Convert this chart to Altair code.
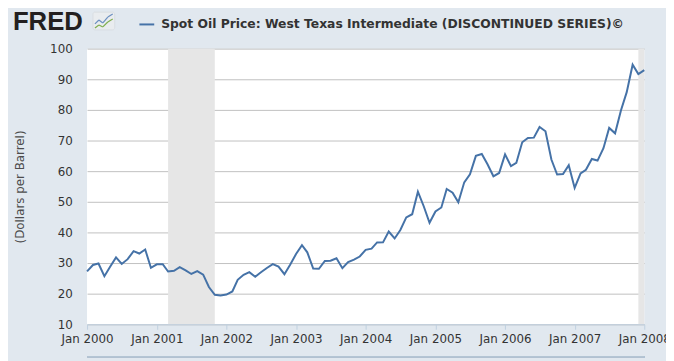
import altair as alt
import pandas as pd

SERIES = "Spot Oil Price: West Texas Intermediate (DISCONTINUED SERIES)\u00a9"

start_month = "2000-01-01"
prices = [
    27.26, 29.37, 29.84, 25.72, 28.79, 31.82, 29.70, 31.26, 33.88, 33.11, 34.42, 28.44,
    29.59, 29.61, 27.25, 27.49, 28.63, 27.60, 26.43, 27.37, 26.20, 22.17, 19.64, 19.39,
    19.72, 20.72, 24.53, 26.18, 27.04, 25.52, 26.97, 28.39, 29.66, 28.84, 26.35, 29.46,
    32.95, 35.83, 33.51, 28.17, 28.11, 30.66, 30.76, 31.57, 28.31, 30.34, 31.11, 32.13,
    34.31, 34.69, 36.74, 36.75, 40.28, 38.03, 40.78, 44.90, 45.94, 53.28, 48.47, 43.15,
    46.84, 48.15, 54.19, 52.98, 49.83, 56.35, 59.00, 64.99, 65.59, 62.26, 58.32, 59.41,
    65.49, 61.63, 62.69, 69.44, 70.84, 70.95, 74.41, 73.04, 63.80, 58.89, 59.08, 61.96,
    54.51, 59.28, 60.44, 63.98, 63.46, 67.49, 74.12, 72.36, 79.92, 85.80, 94.77, 91.69,
    92.97,
]
dates = pd.date_range(start_month, periods=len(prices), freq="MS").strftime("%Y-%m-%d").tolist()

rec_start = ["2001-03-01", "2007-12-01"]
rec_end = ["2001-11-01", "2008-01-01"]

y_ticks = [10, 20, 30, 40, 50, 60, 70, 80, 90, 100]
x_years = [2000, 2001, 2002, 2003, 2004, 2005, 2006, 2007, 2008]

df = pd.DataFrame({"date": dates, "price": prices, "series": SERIES})
rec = pd.DataFrame({"start": rec_start, "end": rec_end})
logo = pd.DataFrame({"text": ["FRED"]})

BG = "#e1e8ef"
LINE = "#4572a7"
AXIS_BLUE = "#c0d0e0"
TXT = "#333333"

x_scale = alt.Scale(
    type="utc",
    domain=[alt.DateTime(year=2000, month=1, date=1, utc=True),
            alt.DateTime(year=2008, month=1, date=1, utc=True)],
)
y_scale = alt.Scale(domain=[10, 100], nice=False, zero=False)

x_axis = alt.Axis(
    values=[alt.DateTime(year=y, month=1, date=1, utc=True) for y in x_years],
    labelExpr="utcFormat(datum.value, '%b %Y')", title=None, grid=False,
    domainColor=AXIS_BLUE, tickColor=AXIS_BLUE, tickSize=5,
    labelColor=TXT, labelFont="DejaVu Sans", labelFontSize=12,
    labelPadding=4, labelOverlap=False, labelFlush=False, zindex=1,
)
y_axis = alt.Axis(
    values=y_ticks, title="(Dollars per Barrel)", grid=True, gridColor="#c0c0c0",
    domain=False, ticks=False, labelPadding=15, labelColor=TXT,
    labelFont="DejaVu Sans", labelFontSize=12,
    titleFont="DejaVu Sans", titleFontSize=12, titleFontWeight="normal",
    titleColor="#4d4d4d", titlePadding=23,
)

bands = alt.Chart(rec).mark_rect(color="#e6e6e6").encode(
    x=alt.X("start:T", scale=x_scale, axis=x_axis),
    x2="end:T",
    y=alt.datum(10, scale=y_scale, axis=y_axis),
    y2=alt.datum(100),
)

line = alt.Chart(df).mark_line(strokeWidth=2).encode(
    x=alt.X("date:T", scale=x_scale, axis=x_axis),
    y=alt.Y("price:Q", scale=y_scale, axis=y_axis),
    color=alt.Color(
        "series:N",
        scale=alt.Scale(domain=[SERIES], range=[LINE]),
        legend=alt.Legend(
            title=None, orient="none", legendX=52, legendY=-33, padding=0,
            symbolType="stroke", symbolSize=225, symbolStrokeWidth=2,
            symbolStrokeColor=LINE, labelFont="DejaVu Sans", labelFontSize=12.5,
            labelFontWeight="bold", labelColor=TXT, labelOffset=6, labelLimit=0,
        ),
    ),
)

nav = alt.Chart(df).mark_rule(color="#b4c3d2", strokeWidth=1).encode(
    x=alt.value(0), x2=alt.value(564), y=alt.value(312)
)

logo_text = alt.Chart(logo).mark_text(
    font="Liberation Sans", fontSize=26, fontWeight="bold", color="#231f20",
    align="left", baseline="alphabetic",
).encode(text="text:N", x=alt.value(-75), y=alt.value(-19))

icon = alt.Chart(logo).mark_rect(
    fill="#e9ecef", stroke="#d8dde2", strokeWidth=1, cornerRadius=2
).encode(x=alt.value(6), x2=alt.value(28), y=alt.value(-37), y2=alt.value(-19))

# small zigzag strokes of the FRED logo icon
icon_blue = [(8, -25, 12, -29), (12, -29, 16, -26), (16, -26, 21, -32), (21, -32, 26, -35)]
icon_green = [(8, -21, 12, -24), (12, -24, 16, -22), (16, -22, 21, -27), (21, -27, 26, -30)]
icon_parts = []
for segs, col in ((icon_blue, "#6b8fc0"), (icon_green, "#7fae4e")):
    for (a, b, c, d) in segs:
        icon_parts.append(
            alt.Chart(logo).mark_rule(color=col, strokeWidth=1.2).encode(
                x=alt.value(a), y=alt.value(b), x2=alt.value(c), y2=alt.value(d)
            )
        )

chart = alt.layer(bands, line, nav, logo_text, icon, *icon_parts).properties(
    width=564, height=279,
    background=BG,
    padding={"left": 80, "top": 39, "right": 22, "bottom": 35},
    autosize=alt.AutoSizeParams(type="none"),
).configure_view(fill="white", stroke=None)

chart.save("out.html", embed_options={"renderer": "svg", "actions": False})
